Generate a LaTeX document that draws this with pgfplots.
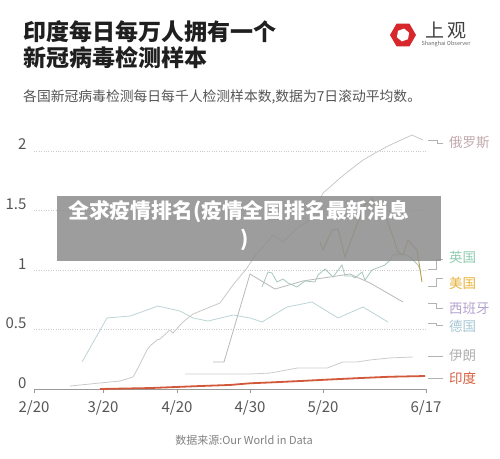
\documentclass[border=0pt]{standalone}
\usepackage{pgfplots}
\pgfplotsset{compat=1.18}
\usepackage{fontspec}
\setmainfont{Noto Sans CJK SC}
\definecolor{ruL}{HTML}{CCC7C7}\definecolor{ruT}{HTML}{C2A9AD}
\definecolor{ukL}{HTML}{A6C6BE}\definecolor{ukT}{HTML}{8ECBB0}
\definecolor{usL}{HTML}{B89E48}\definecolor{usT}{HTML}{E6B23A}
\definecolor{esL}{HTML}{B8B8B8}\definecolor{esT}{HTML}{B2A2CC}
\definecolor{deL}{HTML}{BCD4D6}\definecolor{deT}{HTML}{A6C6D4}
\definecolor{irL}{HTML}{CCCCCC}\definecolor{irT}{HTML}{B0B0B0}
\definecolor{inL}{HTML}{D2583A}\definecolor{inT}{HTML}{D65F3E}
\definecolor{tick}{HTML}{555555}
\definecolor{grid}{HTML}{CCCCCC}
\definecolor{logo}{HTML}{D7262C}
\begin{document}
\begin{tikzpicture}
\useasboundingbox (0pt,0pt) rectangle (500pt,458pt);
% titles
\node[anchor=west,inner sep=0pt,font=\fontsize{23}{25}\selectfont\bfseries,text=black!88] at (23pt,426pt) {印度每日每万人拥有一个};
\node[anchor=west,inner sep=0pt,font=\fontsize{23}{25}\selectfont\bfseries,text=black!88] at (23pt,400pt) {新冠病毒检测样本};
\node[anchor=west,inner sep=0pt,font=\fontsize{13.8}{15}\selectfont,text=tick] at (23pt,361pt) {各国新冠病毒检测每日每千人检测样本数,数据为7日滚动平均数。};
% logo
\fill[logo] (403pt,423pt) ++(0:13pt) -- ++(120:13pt) -- ++(180:13pt) -- ++(240:13pt) -- ++(300:13pt) -- ++(0:13pt) -- cycle;
\fill[white] (403pt,423pt) ++(20:6.5pt) -- ++(140:6.5pt) -- ++(200:6.5pt) -- ++(260:6.5pt) -- ++(320:6.5pt) -- ++(20:6.5pt) -- cycle;
\node[inner sep=0pt,font=\fontsize{19}{20}\selectfont,text=black!75] at (446pt,428pt) {上\,观};
\node[inner sep=0pt,font=\fontsize{5.5}{6}\selectfont,text=black!60] at (446pt,414pt) {Shanghai Observer};
\begin{axis}[
  at={(34pt,69pt)}, anchor=south west,
  x=1pt, y=119pt,
  xmin=34, xmax=426, ymin=0, ymax=2.2,
  enlargelimits=false, clip=false,
  axis x line=bottom, axis y line=left,
  x axis line style={-, draw=black!40, line width=0.8pt},
  y axis line style={draw=none},
  xtick={34,103,177,250,323,426},
  xticklabels={2/20,3/20,4/20,4/30,5/20,6/17},
  xtick style={draw=black!40, line width=0.8pt},
  tick align=outside, major tick length=4pt,
  ytick={0,0.5,1,1.5,2},
  ytick style={draw=none},
  yticklabels={0,0.5,1,1.5,2},
  ymajorgrids, grid style={dotted, draw=grid, line width=0.6pt},
  ticklabel style={font=\fontsize{15}{16}\selectfont, text=tick},
  xticklabel style={anchor=base, yshift=-19pt},
  yticklabel style={anchor=base east, yshift=1pt},
  /pgf/number format/assume math mode=true,
]
% Germany
\addplot[deL, line width=0.8pt] coordinates {(82,0.227)(107,0.597)(130,0.613)(158,0.697)(180,0.655)(193,0.597)(208,0.571)(233,0.622)(250,0.597)(262,0.563)(287,0.689)(312,0.731)(338,0.597)(363,0.689)(388,0.563)};
% Spain
\addplot[esL, line width=0.8pt] coordinates {(213,0.227)(224,0.227)(250,0.966)(275,0.840)(303,0.908)(350,0.966)(370,0.891)(403,0.731)};
% Iran
\addplot[irL, line width=0.8pt] coordinates {(185,0.126)(250,0.126)(270,0.134)(297,0.176)(327,0.176)(343,0.227)(357,0.227)(370,0.244)(390,0.261)(413,0.269)};
% Russia
\addplot[ruL, line width=0.8pt] coordinates {(70,0.025)(110,0.059)(120,0.067)(133,0.101)(138,0.176)(147,0.328)(150,0.361)(157,0.412)(160,0.420)(170,0.496)(173,0.471)(183,0.563)(193,0.630)(220,0.723)(233,0.874)(247,1.017)(255,1.118)(263,1.193)(273,1.294)(283,1.235)(297,1.353)(310,1.420)(323,1.647)(330,1.697)(340,1.773)(350,1.840)(363,1.924)(377,1.992)(390,2.050)(412,2.134)(423,2.092)};
% UK
\addplot[ukL, line width=0.8pt] coordinates {(262,0.857)(268,0.983)(272,0.975)(277,0.899)(283,0.924)(288,0.891)(297,0.857)(305,0.908)(315,0.899)(318,0.958)(325,1.008)(333,0.941)(342,1.042)(345,0.950)(352,0.950)(355,0.933)(362,0.983)(365,0.916)(372,1.000)(385,1.042)(390,1.084)(393,1.126)(403,1.134)(410,1.109)(418,1.042)(421,0.983)};
% US
\addplot[usL, line width=0.9pt] coordinates {(320,1.235)(323,1.168)(332,1.336)(338,1.345)(345,1.109)(350,1.227)(358,1.403)(365,1.546)(372,1.605)(378,1.487)(387,1.420)(393,1.277)(398,1.151)(403,1.126)(408,1.252)(417,1.168)(422,0.899)};
% India
\addplot[inL, line width=1.8pt] coordinates {(100,0)(150,0.008)(200,0.025)(230,0.034)(250,0.048)(270,0.055)(300,0.067)(330,0.080)(360,0.092)(390,0.103)(425,0.109)};
\end{axis}
% connectors
\begin{scope}[draw=black!30, line width=0.6pt]
\draw (428pt,318pt) -- (437pt,318pt) -- (437pt,315pt) -- (443pt,315pt);
\draw (428pt,189pt) -- (436pt,189pt) -- (436pt,199pt) -- (443pt,199pt);
\draw (428pt,172pt) -- (436pt,172pt) -- (436pt,180pt) -- (443pt,180pt);
\draw (428pt,155pt) -- (436pt,155pt) -- (436pt,150pt) -- (443pt,150pt);
\draw (428pt,135pt) -- (436pt,135pt) -- (436pt,133pt) -- (443pt,133pt);
\draw (428pt,102pt) -- (443pt,102pt);
\draw (428pt,80pt) -- (443pt,80pt);
\end{scope}
\begin{scope}[every node/.style={anchor=west, inner sep=0pt, font=\fontsize{13.5}{15}\selectfont}]
\node[text=ruT] at (449pt,316pt) {俄罗斯};
\node[text=ukT] at (449pt,201pt) {英国};
\node[text=usT] at (449pt,175pt) {美国};
\node[text=esT] at (449pt,150pt) {西班牙};
\node[text=deT] at (449pt,132pt) {德国};
\node[text=irT] at (449pt,103pt) {伊朗};
\node[text=inT] at (449pt,80pt) {印度};
\end{scope}
\node[inner sep=0pt,font=\fontsize{11}{12}\selectfont,text=black!50] at (244pt,18pt) {数据来源:Our World in Data};
% overlay banner
\fill[black!44, opacity=0.88] (57pt,197pt) rectangle (441pt,262pt);
\node[anchor=west,inner sep=0pt,font=\fontsize{20.8}{22}\selectfont\bfseries,text=white] at (68pt,246pt) {全求疫情排名(疫情全国排名最新消息};
\node[inner sep=0pt,font=\fontsize{20.8}{22}\selectfont\bfseries,text=white] at (245pt,218pt) {)};
\end{tikzpicture}
\end{document}
